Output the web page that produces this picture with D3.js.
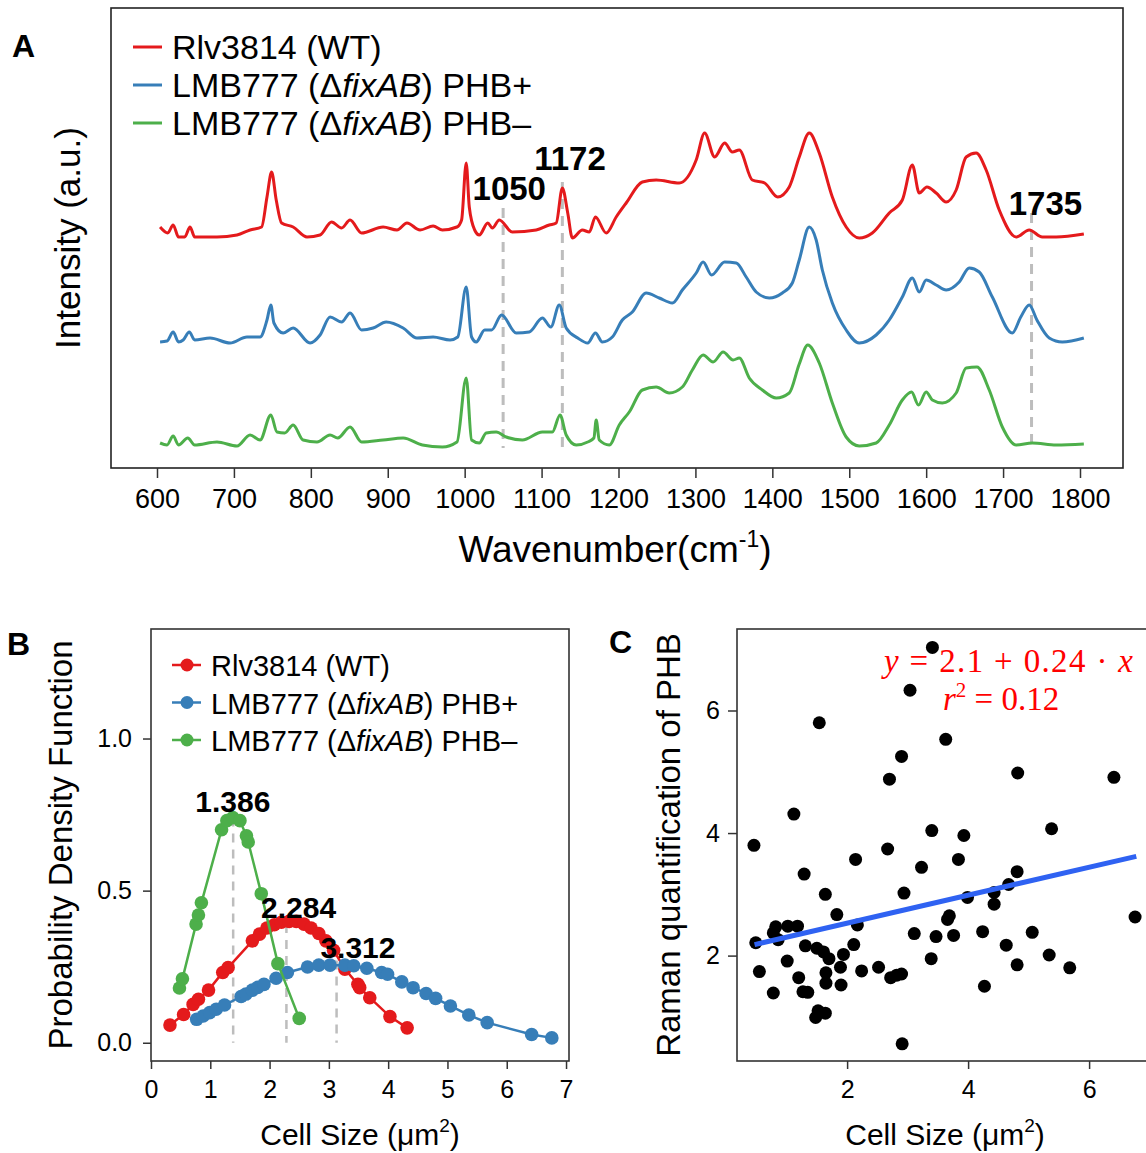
<!DOCTYPE html>
<html><head><meta charset="utf-8">
<script src="https://cdn.jsdelivr.net/npm/d3@7"></script>
<style>
body{margin:0;background:#fff}
svg{display:block}
text{font-family:'Liberation Sans',Arial,Helvetica,sans-serif;fill:#000}
</style></head>
<body><svg id="chart" width="1146" height="1153"></svg>
<script>
// ---------------- DATA ----------------
const seriesNames = ["Rlv3814 (WT)", "LMB777 (ΔfixAB) PHB+", "LMB777 (ΔfixAB) PHB–"];
const seriesColors = ["#e41a1c", "#377eb8", "#4daf4a"];

// Panel A: Raman spectra [wavenumber, intensity a.u.]
const spectrumWT = [[604,241],[614,235],[621,243],[628,231],[636,231],[643,241],[649,231],[678,231],[704,233],[721,238],[736,241],[743,271],[749,296],[755,268],[762,245],[777,241],[795,231],[812,233],[827,246],[840,240],[851,248],[866,235],[894,241],[912,238],[925,245],[942,238],[959,242],[971,238],[990,241],[996,248],[1002,305],[1006,261],[1013,238],[1019,233],[1030,245],[1036,240],[1045,248],[1062,236],[1093,238],[1110,243],[1119,245],[1127,280],[1134,255],[1140,230],[1153,238],[1162,236],[1170,251],[1184,235],[1197,251],[1210,265],[1231,286],[1249,288],[1279,285],[1301,308],[1312,335],[1325,311],[1338,325],[1348,316],[1357,318],[1374,288],[1390,285],[1407,271],[1422,281],[1435,311],[1448,335],[1461,315],[1478,271],[1496,241],[1513,230],[1530,235],[1552,255],[1569,268],[1582,303],[1591,275],[1601,281],[1613,275],[1626,266],[1639,278],[1652,311],[1665,315],[1678,298],[1695,258],[1717,231],[1734,238],[1751,231],[1769,231],[1805,234]];
const spectrumPHBplus = [[604,126],[613,127],[621,136],[628,126],[634,128],[642,136],[649,128],[669,130],[695,125],[717,131],[734,131],[743,148],[748,163],[752,145],[764,135],[777,140],[799,125],[812,133],[825,151],[840,146],[851,155],[866,138],[881,140],[898,146],[920,140],[938,130],[959,131],[981,128],[991,131],[1002,181],[1009,131],[1015,126],[1026,138],[1035,138],[1048,153],[1067,135],[1084,136],[1101,150],[1112,141],[1123,163],[1132,140],[1147,130],[1160,125],[1170,135],[1179,126],[1192,131],[1205,148],[1218,156],[1236,175],[1253,170],[1270,165],[1283,178],[1301,195],[1310,206],[1321,193],[1338,206],[1353,205],[1366,191],[1379,176],[1396,170],[1413,175],[1426,185],[1435,208],[1448,241],[1457,228],[1465,198],[1478,165],[1496,138],[1513,125],[1535,133],[1552,148],[1569,171],[1582,190],[1591,176],[1600,188],[1613,183],[1626,178],[1643,186],[1656,200],[1669,196],[1686,171],[1712,135],[1723,151],[1734,163],[1744,148],[1760,130],[1777,126],[1805,130]];
const spectrumPHBminus = [[604,25],[613,23],[621,32],[628,23],[640,30],[649,23],[678,26],[704,22],[721,33],[734,28],[748,53],[756,36],[766,35],[777,43],[790,28],[808,26],[825,33],[835,30],[851,41],[866,26],[894,28],[920,30],[945,23],[971,21],[990,26],[1002,90],[1009,28],[1019,25],[1028,35],[1041,36],[1054,31],[1075,28],[1101,36],[1114,36],[1124,53],[1132,33],[1145,23],[1160,26],[1168,30],[1171,48],[1175,28],[1188,23],[1201,43],[1214,56],[1231,78],[1249,81],[1266,75],[1283,81],[1296,98],[1310,113],[1323,106],[1336,116],[1349,108],[1357,110],[1370,90],[1387,78],[1405,70],[1422,75],[1435,104],[1446,123],[1461,105],[1478,65],[1496,31],[1513,22],[1535,25],[1552,43],[1569,68],[1581,76],[1590,63],[1600,76],[1608,68],[1621,65],[1639,75],[1652,100],[1666,101],[1682,78],[1699,41],[1717,23],[1738,25],[1769,23],[1805,24]];
const xTicksA = [600,700,800,900,1000,1100,1200,1300,1400,1500,1600,1700,1800];
const peakLines = [1050, 1127, 1737];
const peakLineTop = [260, 286, 255];
const peakLineBottom = 20;
const peakLabels = ["1050", "1172", "1735"];
const peakLabelX = [1058, 1137, 1755];
const peakLabelY = [268, 298, 253];

// Panel B: PDF of cell size [size um^2, density]
const pdfWT = [[0.32,0.058],[0.55,0.093],[0.71,0.126],[0.80,0.143],[0.97,0.173],[1.21,0.231],[1.30,0.247],[1.71,0.335],[1.83,0.357],[1.955,0.377],[2.08,0.388],[2.20,0.396],[2.33,0.399],[2.45,0.399],[2.58,0.390],[2.70,0.377],[2.83,0.359],[2.95,0.335],[3.08,0.304],[3.27,0.242],[3.49,0.192],[3.52,0.181],[3.69,0.148],[4.03,0.086],[4.32,0.049]];
const pdfPHBplus = [[0.77,0.077],[0.88,0.088],[0.99,0.099],[1.10,0.110],[1.24,0.124],[1.52,0.152],[1.60,0.160],[1.71,0.173],[1.80,0.182],[1.905,0.192],[2.11,0.212],[2.30,0.231],[2.64,0.249],[2.83,0.255],[3.02,0.255],[3.27,0.255],[3.42,0.253],[3.64,0.245],[3.89,0.231],[3.99,0.225],[4.23,0.200],[4.42,0.181],[4.64,0.162],[4.80,0.146],[5.05,0.121],[5.36,0.091],[5.67,0.066],[6.42,0.027],[6.76,0.016]];
const pdfPHBminus = [[0.48,0.18],[0.53,0.21],[0.76,0.39],[0.80,0.42],[0.85,0.46],[1.19,0.70],[1.28,0.73],[1.38,0.74],[1.50,0.73],[1.61,0.68],[1.64,0.66],[1.86,0.49],[2.14,0.26],[2.50,0.08]];
const xTicksB = [0,1,2,3,4,5,6,7];
const yTicksB = [0.0, 0.5, 1.0];
const modeLines = [1.386, 2.284, 3.13];
const modeLineTop = [0.74, 0.39, 0.27];
const modeLabels = ["1.386", "2.284", "3.312"];
const modeLabelX = [1.38, 2.49, 3.49];
const modeLabelY = [0.76, 0.41, 0.28];

// Panel C: cell size vs Raman quantification of PHB
const cellSizeC = [3.41,3.04,1.54,3.63,2.90,2.70,4.82,6.41,1.12,3.40,3.93,5.38,0.46,2.67,2.14,3.84,3.23,1.29,4.81,1.64,2.94,4.67,3.99,4.43,4.43,1.83,3.69,3.66,0.82,1.02,1.18,2.17,0.78,0.86,0.49,3.11,3.47,3.76,4.24,5.06,2.11,1.31,1.50,1.61,1.70,1.94,4.63,5.34,3.39,1.01,1.89,4.81,5.68,0.55,1.65,2.24,2.52,2.72,2.82,2.90,1.20,1.65,1.90,4.27,0.78,1.27,1.35,1.52,1.64,1.48,2.91,6.76];
const phbC = [7.03,6.33,5.80,5.53,5.25,4.88,4.98,4.91,4.31,4.04,3.96,4.07,3.80,3.74,3.57,3.57,3.44,3.33,3.37,3.00,3.02,3.16,2.95,3.03,2.84,2.67,2.65,2.59,2.47,2.48,2.48,2.50,2.37,2.26,2.21,2.36,2.31,2.33,2.39,2.38,2.18,2.16,2.12,2.06,1.95,2.02,2.17,2.01,1.95,1.91,1.81,1.85,1.80,1.74,1.72,1.75,1.81,1.64,1.68,1.70,1.64,1.55,1.52,1.50,1.39,1.41,1.40,1.10,1.06,0.99,0.56,2.63];
const fitLine = [[0.47,2.18],[6.78,3.62]];
const xTicksC = [2,4,6];
const yTicksC = [2,4,6];

// ---------------- DRAW ----------------
const svg = d3.select("#chart");
const axisColor = "#333";

function styleAxis(g, fs){
  g.select(".domain").remove();
  g.selectAll(".tick line").attr("stroke", axisColor).attr("stroke-width", 1.5);
  g.selectAll(".tick text").attr("font-size", fs).attr("fill", "#111")
    .style("font-family", "'Liberation Sans',Arial,sans-serif");
}
function legendText(sel, name){
  const m = name.match(/^(.*\(Δ)(fixAB)(\).*)$/);
  if(m){
    sel.append("tspan").text(m[1]);
    sel.append("tspan").attr("font-style","italic").text(m[2]);
    sel.append("tspan").text(m[3]);
  } else sel.text(name);
}

// ===== Panel A =====
const xA = d3.scaleLinear().domain([600,1800]).range([157,1080]);
const yA = d3.scaleLinear().domain([0,460]).range([468,8]);
svg.append("rect").attr("x",111).attr("y",8).attr("width",1012).attr("height",460)
  .attr("fill","none").attr("stroke","#222").attr("stroke-width",1.6);
const axA = svg.append("g").attr("transform","translate(0,468)")
  .call(d3.axisBottom(xA).tickValues(xTicksA).tickSize(10).tickPadding(11).tickFormat(d3.format("d")));
styleAxis(axA, 27);

peakLines.forEach((p,i)=>{
  svg.append("line").attr("x1",xA(p)).attr("x2",xA(p)).attr("y1",yA(peakLineTop[i])).attr("y2",yA(peakLineBottom))
    .attr("stroke","#bdbdbd").attr("stroke-width",3).attr("stroke-dasharray","10,7");
});
const lineA = d3.line().x(d=>xA(d[0])).y(d=>yA(d[1])).curve(d3.curveMonotoneX);
[spectrumWT, spectrumPHBplus, spectrumPHBminus].forEach((s,i)=>{
  svg.append("path").datum(s).attr("d", lineA).attr("fill","none")
    .attr("stroke", seriesColors[i]).attr("stroke-width", 3).attr("stroke-linejoin","round");
});
peakLabels.forEach((t,i)=>{
  svg.append("text").attr("x", xA(peakLabelX[i])).attr("y", yA(peakLabelY[i]))
    .attr("text-anchor","middle").attr("font-size",33).attr("font-weight","bold").text(t);
});
seriesNames.forEach((n,i)=>{
  const y = 47 + i*38;
  svg.append("line").attr("x1",133).attr("x2",162).attr("y1",y).attr("y2",y)
    .attr("stroke",seriesColors[i]).attr("stroke-width",3);
  legendText(svg.append("text").attr("x",172).attr("y",y+12).attr("font-size",34), n);
});
svg.append("text").attr("x",12).attr("y",57).attr("font-size",32).attr("font-weight","bold").text("A");
const tA = svg.append("text").attr("x",615).attr("y",562).attr("text-anchor","middle").attr("font-size",37);
tA.append("tspan").text("Wavenumber(cm");
tA.append("tspan").attr("font-size",23).attr("dy",-15).text("-1");
tA.append("tspan").attr("dy",15).text(")");
svg.append("text").attr("transform","translate(80,238) rotate(-90)").attr("text-anchor","middle")
  .attr("font-size",35).text("Intensity (a.u.)");

// ===== Panel B =====
const xB = d3.scaleLinear().domain([0,7.05]).range([151,569]);
const yB = d3.scaleLinear().domain([-0.06,1.36]).range([1061,629]);
svg.append("rect").attr("x",151).attr("y",629).attr("width",418).attr("height",432)
  .attr("fill","none").attr("stroke","#333").attr("stroke-width",1.6);
const axBx = svg.append("g").attr("transform","translate(0,1061)")
  .call(d3.axisBottom(xB).tickValues(xTicksB).tickSize(8).tickPadding(11).tickFormat(d3.format("d")));
styleAxis(axBx, 25);
const axBy = svg.append("g").attr("transform","translate(151,0)")
  .call(d3.axisLeft(yB).tickValues(yTicksB).tickSize(8).tickPadding(11).tickFormat(d3.format(".1f")));
styleAxis(axBy, 25);
modeLines.forEach((m,i)=>{
  svg.append("line").attr("x1",xB(m)).attr("x2",xB(m)).attr("y1",yB(modeLineTop[i])).attr("y2",yB(0))
    .attr("stroke","#bdbdbd").attr("stroke-width",2.5).attr("stroke-dasharray","9,7");
});
const lineB = d3.line().x(d=>xB(d[0])).y(d=>yB(d[1]));
[[pdfWT,0],[pdfPHBplus,1],[pdfPHBminus,2]].forEach(([s,i])=>{
  const g = svg.append("g");
  g.append("path").datum(s).attr("d", lineB).attr("fill","none").attr("stroke",seriesColors[i]).attr("stroke-width",2.5);
  g.selectAll("circle").data(s).join("circle").attr("cx",d=>xB(d[0])).attr("cy",d=>yB(d[1])).attr("r",6.8)
    .attr("fill",seriesColors[i]);
});
modeLabels.forEach((t,i)=>{
  svg.append("text").attr("x",xB(modeLabelX[i])).attr("y",yB(modeLabelY[i])).attr("text-anchor","middle")
    .attr("font-size",30).attr("font-weight","bold").text(t);
});
seriesNames.forEach((n,i)=>{
  const y = 665 + i*37.5;
  svg.append("line").attr("x1",172).attr("x2",201).attr("y1",y).attr("y2",y).attr("stroke",seriesColors[i]).attr("stroke-width",2.5);
  svg.append("circle").attr("cx",187).attr("cy",y).attr("r",6.5).attr("fill",seriesColors[i]);
  legendText(svg.append("text").attr("x",211).attr("y",y+11).attr("font-size",29), n);
});
svg.append("text").attr("x",7).attr("y",655).attr("font-size",32).attr("font-weight","bold").text("B");
const tB = svg.append("text").attr("x",360).attr("y",1145).attr("text-anchor","middle").attr("font-size",30);
tB.append("tspan").text("Cell Size (μm");
tB.append("tspan").attr("font-size",19).attr("dy",-13).text("2");
tB.append("tspan").attr("dy",13).text(")");
svg.append("text").attr("transform","translate(72,845) rotate(-90)").attr("text-anchor","middle")
  .attr("font-size",33).text("Probability Density Function");

// ===== Panel C =====
const xC = d3.scaleLinear().domain([0.18,6.99]).range([737,1149]);
const yC = d3.scaleLinear().domain([0.28,7.33]).range([1061,629]);
svg.append("rect").attr("x",737).attr("y",629).attr("width",420).attr("height",432)
  .attr("fill","none").attr("stroke","#333").attr("stroke-width",1.6);
const axCx = svg.append("g").attr("transform","translate(0,1061)")
  .call(d3.axisBottom(xC).tickValues(xTicksC).tickSize(8).tickPadding(11).tickFormat(d3.format("d")));
styleAxis(axCx, 25);
const axCy = svg.append("g").attr("transform","translate(737,0)")
  .call(d3.axisLeft(yC).tickValues(yTicksC).tickSize(9).tickPadding(8).tickFormat(d3.format("d")));
styleAxis(axCy, 25);
const ptsC = cellSizeC.map((x,i)=>[x, phbC[i]]);
svg.append("g").selectAll("circle").data(ptsC).join("circle")
  .attr("cx",d=>xC(d[0])).attr("cy",d=>yC(d[1])).attr("r",6.5).attr("fill","#000");
svg.append("path").datum(fitLine).attr("d", d3.line().x(d=>xC(d[0])).y(d=>yC(d[1])))
  .attr("stroke","#2f62f2").attr("stroke-width",5).attr("fill","none");
const eq1 = svg.append("text").attr("x",884).attr("y",672).attr("font-size",33)
  .attr("textLength",249).attr("lengthAdjust","spacing")
  .style("font-family","'Liberation Serif','DejaVu Serif',serif").style("fill","#f00");
eq1.append("tspan").attr("font-style","italic").text("y");
eq1.append("tspan").text(" = 2.1 + 0.24 · ");
eq1.append("tspan").attr("font-style","italic").text("x");
const eq2 = svg.append("text").attr("x",943).attr("y",710).attr("font-size",33)
  .style("font-family","'Liberation Serif','DejaVu Serif',serif").style("fill","#f00");
eq2.append("tspan").attr("font-style","italic").text("r");
eq2.append("tspan").attr("font-size",21).attr("dy",-13).text("2");
eq2.append("tspan").attr("dy",13).text(" = 0.12");
svg.append("text").attr("x",609).attr("y",653).attr("font-size",32).attr("font-weight","bold").text("C");
const tC = svg.append("text").attr("x",945).attr("y",1145).attr("text-anchor","middle").attr("font-size",30);
tC.append("tspan").text("Cell Size (μm");
tC.append("tspan").attr("font-size",19).attr("dy",-13).text("2");
tC.append("tspan").attr("dy",13).text(")");
svg.append("text").attr("transform","translate(680,845) rotate(-90)").attr("text-anchor","middle")
  .attr("font-size",33).text("Raman quantification of PHB");
</script></body></html>
